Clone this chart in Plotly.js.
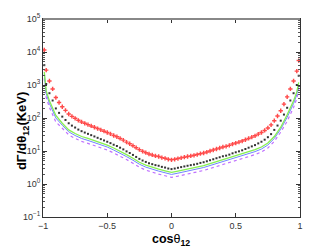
<!DOCTYPE html>
<html><head><meta charset="utf-8">
<script src="https://cdn.plot.ly/plotly-3.0.1.min.js"></script>
<style>html,body{margin:0;padding:0;background:#fff;}#c{width:332px;height:250px;}</style>
</head><body><div id="c"></div>
<script>
// marker grid (cos theta_12)
const xPts = [-0.99,-0.975,-0.95,-0.925,-0.9,-0.875,-0.85,-0.825,-0.8,-0.775,-0.75,-0.725,-0.7,-0.675,-0.65,-0.625,-0.6,-0.575,-0.55,-0.525,-0.5,-0.475,-0.45,-0.425,-0.4,-0.375,-0.35,-0.325,-0.3,-0.275,-0.25,-0.225,-0.2,-0.175,-0.15,-0.125,-0.1,-0.075,-0.05,-0.025,0,0.025,0.05,0.075,0.1,0.125,0.15,0.175,0.2,0.225,0.25,0.275,0.3,0.325,0.35,0.375,0.4,0.425,0.45,0.475,0.5,0.525,0.55,0.575,0.6,0.625,0.65,0.675,0.7,0.725,0.75,0.775,0.8,0.825,0.85,0.875,0.9,0.925,0.95,0.975,0.99];
const redVals = [11500,2820,1320,759,417,295,219,170,132,112,98,85,76,69,63,57.5,52.5,47.9,43.7,39.8,36.3,33,29.5,27,24,21.4,18.6,16.6,14.5,12.6,11,9.8,8.9,8.1,7.6,7.1,6.8,6.3,6.0,5.6,5.4,5.6,5.9,6.2,6.5,6.8,7.1,7.4,7.8,8.3,8.7,9.3,10,10.7,11.5,12.3,13.2,13.8,14.8,16.2,17.4,18.6,20,21.9,24,26.3,28.8,32.4,36.3,42,50,62,83,115,166,263,437,759,1320,2630,5500];
const blackVals = [3990,1072,564,339,195,143,110,87.2,69.3,58.8,51.4,44.6,39.9,36.2,33.1,30.2,27.6,25.1,22.9,20.9,19.1,17.3,15.5,14.2,12.6,11.2,9.76,8.71,7.61,6.61,5.77,5.14,4.67,4.25,3.99,3.73,3.57,3.31,3.15,2.94,2.83,2.94,3.10,3.25,3.41,3.57,3.73,3.88,4.09,4.36,4.57,4.88,5.25,5.62,6.04,6.46,6.93,7.24,7.77,8.50,9.13,9.76,10.5,11.5,12.6,13.8,15.1,17.0,19.1,22.0,26.2,32.5,43.6,59.0,83.0,127,204,339,564,1000,1910];
// line grid
const xLine = [-0.99,-0.975,-0.95,-0.925,-0.9,-0.85,-0.8,-0.75,-0.7,-0.65,-0.6,-0.55,-0.5,-0.45,-0.4,-0.35,-0.3,-0.25,-0.2,-0.15,-0.1,-0.05,0,0.05,0.1,0.15,0.2,0.25,0.3,0.35,0.4,0.45,0.5,0.55,0.6,0.65,0.7,0.75,0.8,0.85,0.9,0.925,0.95,0.975,0.99];
const greenVals = [2510,661,331,204,120,69.2,43.7,33.9,27.5,24.0,20.9,18.2,15.1,12.3,10.0,7.76,6.03,4.57,3.72,3.16,2.82,2.51,2.24,2.45,2.69,2.95,3.24,3.63,4.17,4.79,5.50,6.17,7.24,8.13,9.55,11.0,13.2,17.4,27.5,52.5,126,204,331,617,1200];
const blueVals = [2090,550,275,170,100,60.3,38.1,29.5,24.0,20.9,18.2,15.9,13.2,10.7,8.71,6.76,5.25,3.98,3.24,2.75,2.46,2.19,1.95,2.13,2.34,2.57,2.82,3.16,3.63,4.17,4.79,5.37,6.31,7.08,8.32,9.58,11.5,15.2,24.0,45.7,105,170,275,513,998];
const purpleVals = [1590,417,209,129,75.9,49.0,31.0,24.0,19.5,17.0,14.8,12.9,10.7,8.70,7.08,5.50,4.27,3.24,2.63,2.24,2.00,1.78,1.59,1.73,1.90,2.09,2.29,2.57,2.95,3.39,3.89,4.37,5.13,5.76,6.76,7.79,9.35,12.4,19.5,37.2,79.7,129,209,389,757];
const xTickVals = [-1,-0.5,0,0.5,1];
const xTickText = ['\u22121','\u22120.5','0','0.5','1'];
const yTickVals = [0.1,1,10,100,1000,10000,100000];
const yTickText = ['10<sup>\u22121</sup>','10<sup>0</sup>','10<sup>1</sup>','10<sup>2</sup>','10<sup>3</sup>','10<sup>4</sup>','10<sup>5</sup>'];

const traces = [
  {x:xLine,y:purpleVals,mode:'lines',line:{color:'#c070ff',width:1.2,dash:'3px,3px'},hoverinfo:'skip'},
  {x:xLine,y:blueVals,mode:'lines',line:{color:'#6f86ff',width:1},hoverinfo:'skip'},
  {x:xLine,y:greenVals,mode:'lines',line:{color:'#86f050',width:1.3},hoverinfo:'skip'},
  {x:xPts,y:blackVals,mode:'markers',marker:{symbol:'square',size:2,color:'#333'},hoverinfo:'skip'},
  {x:xPts,y:redVals,mode:'markers',marker:{symbol:'cross',size:3.6,color:'#ff4a4a'},hoverinfo:'skip'}
];
const fnt = {family:'Liberation Sans, Arial, sans-serif',size:9,color:'#333'};
const layout = {
  width:332,height:250,
  margin:{l:43,r:32,t:19,b:33},
  paper_bgcolor:'#fff',plot_bgcolor:'#fff',
  showlegend:false,
  font:fnt,
  xaxis:{range:[-1,1],tickmode:'array',tickvals:xTickVals,ticktext:xTickText,ticks:'inside',ticklen:4,tickcolor:'#333',
    showline:true,linecolor:'#333',linewidth:1,mirror:'allticks',showgrid:false,zeroline:false,tickfont:fnt},
  yaxis:{type:'log',range:[-1,5],tickmode:'array',tickvals:yTickVals,ticktext:yTickText,ticks:'inside',ticklen:4,tickcolor:'#333',
    showline:true,linecolor:'#333',linewidth:1,mirror:'allticks',showgrid:false,zeroline:false,tickfont:fnt,
    minor:{ticks:'inside',ticklen:2,tickcolor:'#555',dtick:'D1',showgrid:false}},
  shapes:[{type:'line',xref:'paper',yref:'paper',x0:0,x1:1,y0:1,y1:1,line:{color:'#888',width:2}}],
  annotations:[
    {xref:'paper',yref:'paper',x:0.498,y:-0.118,text:'<b>cos</b>\u03b8<b><sub>12</sub></b>',showarrow:false,xanchor:'center',yanchor:'middle',
      font:{family:'Liberation Sans, Arial, sans-serif',size:12.5,color:'#000'}},
    {xref:'paper',yref:'paper',x:-0.0817,y:0.434,text:'<b>d\u0393/d\u03b8<sub>12</sub>(KeV)</b>',textangle:-90,showarrow:false,xanchor:'center',yanchor:'middle',
      font:{family:'Liberation Sans, Arial, sans-serif',size:13,color:'#000'}}
  ]
};
Plotly.newPlot('c',traces,layout,{displayModeBar:false,staticPlot:true});
</script>
</body></html>
